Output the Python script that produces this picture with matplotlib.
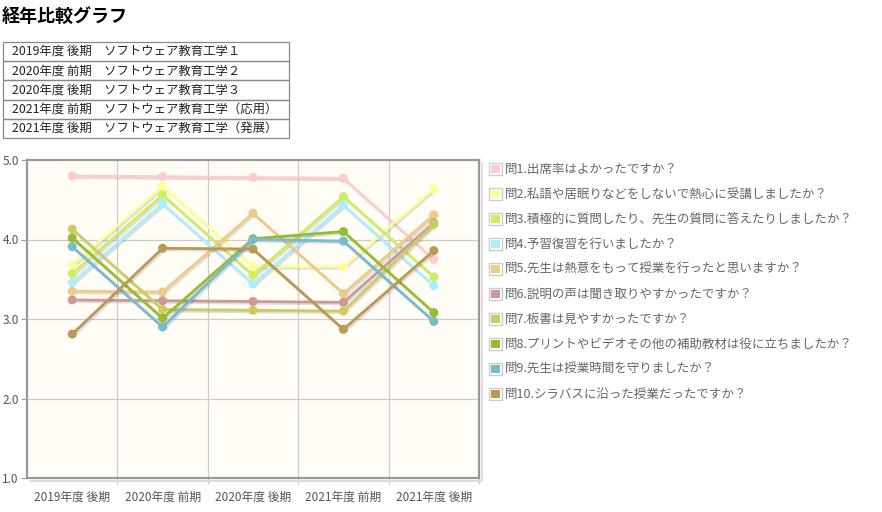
import matplotlib
matplotlib.use("Agg")
import matplotlib.pyplot as plt
import matplotlib.patheffects as pe
from matplotlib.patches import Rectangle

plt.rcParams['font.family'] = ['Noto Sans CJK JP', 'DejaVu Sans']

title = "経年比較グラフ"
courses = [
    "2019年度 後期　ソフトウェア教育工学１",
    "2020年度 前期　ソフトウェア教育工学２",
    "2020年度 後期　ソフトウェア教育工学３",
    "2021年度 前期　ソフトウェア教育工学（応用）",
    "2021年度 後期　ソフトウェア教育工学（発展）",
]
categories = ["2019年度 後期", "2020年度 前期", "2020年度 後期", "2021年度 前期", "2021年度 後期"]
series_names = [
    "問1.出席率はよかったですか？",
    "問2.私語や居眠りなどをしないで熱心に受講しましたか？",
    "問3.積極的に質問したり、先生の質問に答えたりしましたか？",
    "問4.予習復習を行いましたか？",
    "問5.先生は熱意をもって授業を行ったと思いますか？",
    "問6.説明の声は聞き取りやすかったですか？",
    "問7.板書は見やすかったですか？",
    "問8.プリントやビデオその他の補助教材は役に立ちましたか？",
    "問9.先生は授業時間を守りましたか？",
    "問10.シラバスに沿った授業だったですか？",
]
q1 = [4.80, 4.79, 4.78, 4.77, 3.75]
q2 = [3.68, 4.67, 3.66, 3.66, 4.64]
q3 = [3.57, 4.56, 3.55, 4.54, 3.53]
q4 = [3.46, 4.45, 3.44, 4.43, 3.42]
q5 = [3.35, 3.34, 4.33, 3.32, 4.31]
q6 = [3.24, 3.23, 3.22, 3.21, 4.21]
q7 = [4.13, 3.12, 3.11, 3.10, 4.19]
q8 = [4.02, 3.01, 4.01, 4.10, 3.08]
q9 = [3.91, 2.90, 4.00, 3.98, 2.97]
q10 = [2.81, 3.89, 3.88, 2.87, 3.86]
values = [q1, q2, q3, q4, q5, q6, q7, q8, q9, q10]
colors = ["#ffcccc", "#ffff99", "#ccee66", "#aaeeff", "#eecc88",
          "#cc9999", "#cccc66", "#99bb33", "#77bbcc", "#bb9955"]
yticks = [1.0, 2.0, 3.0, 4.0, 5.0]

W, H = 882, 512
fig = plt.figure(figsize=(W / 100, H / 100), dpi=100)

def fx(px):
    return px / W

def fy(py):
    return 1 - py / H

# Title
fig.text(fx(2), fy(16), title, fontsize=13, fontweight='bold', va='center', ha='left', color='#000')

# Course table
tx0, tx1 = 3, 289
ty0, rh = 42, 19.2
for i, c in enumerate(courses):
    top = ty0 + i * rh
    fig.patches.append(Rectangle((fx(tx0), fy(top + rh)), fx(tx1) - fx(tx0), fy(top) - fy(top + rh),
                                 transform=fig.transFigure, fill=False, edgecolor='#888888', lw=0.9))
    fig.text(fx(12), fy(top + rh / 2), c, fontsize=8.9, va='center', ha='left', color='#222')

# Axes
ax = fig.add_axes([fx(27), fy(478), fx(479) - fx(27), fy(160) - fy(478)])
ax.set_facecolor('#fffdf5')
x = list(range(len(categories)))
for name, vals, col in zip(series_names, values, colors):
    ax.plot(x, vals, color=col, lw=2.0, marker='o', markersize=6.5, markeredgewidth=0,
            label=name, zorder=3,
            path_effects=[pe.SimpleLineShadow(offset=(1.2, -1.2), alpha=0.12, shadow_color='black'), pe.Normal()])

ax.set_xlim(-0.5, len(categories) - 0.5)
ax.set_ylim(1.0, 5.0)
ax.set_yticks(yticks)
ax.set_yticklabels([f"{v:.1f}" for v in yticks])
ax.set_xticks(x)
ax.set_xticklabels(categories)
ax.set_xticks([i + 0.5 for i in range(len(categories))], minor=True)
ax.grid(False)
for v in yticks[1:-1]:
    ax.axhline(v, color='#cccccc', lw=0.9, zorder=1)
for i in range(len(categories) - 1):
    ax.axvline(i + 0.5, color='#cccccc', lw=0.9, zorder=1)
ax.tick_params(axis='y', labelsize=8.5, labelcolor='#555', color='#999', length=4, pad=2)
ax.tick_params(axis='x', which='major', labelsize=8.5, labelcolor='#555', length=0, pad=9)
ax.tick_params(axis='x', which='minor', length=4, color='#bbb')
for s in ax.spines.values():
    s.set_color('#999999')
    s.set_linewidth(1.6)

# Frame shadow
fig.patches.append(Rectangle((fx(481), fy(480)), fx(2), fy(162) - fy(480), transform=fig.transFigure,
                             color='#dddddd', lw=0, zorder=0))
fig.patches.append(Rectangle((fx(29), fy(482)), fx(454) - fx(0), fy(480) - fy(482), transform=fig.transFigure,
                             color='#dddddd', lw=0, zorder=0))

# Legend
ly0, lsp = 169, 25
for i, (name, col) in enumerate(zip(series_names, colors)):
    cy = ly0 + i * lsp
    fig.patches.append(Rectangle((fx(489), fy(cy + 6)), fx(13), fy(cy - 6) - fy(cy + 6),
                                 transform=fig.transFigure, facecolor='white', edgecolor='#cccccc', lw=1.0))
    fig.patches.append(Rectangle((fx(491), fy(cy + 4)), fx(9), fy(cy - 4) - fy(cy + 4),
                                 transform=fig.transFigure, facecolor=col, edgecolor='none'))
    fig.text(fx(505), fy(cy), name, fontsize=9.0, va='center', ha='left', color='#666')

fig.savefig("out.png", dpi=100)
